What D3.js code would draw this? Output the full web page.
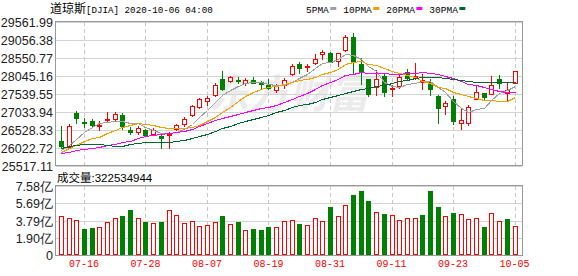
<!DOCTYPE html>
<html>
<head>
<meta charset="utf-8">
<script src="https://cdn.jsdelivr.net/npm/d3@7"></script>
<style>
  body { margin: 0; background: #fff; }
  svg text { font-family: "Liberation Sans", Arial, sans-serif; }
</style>
</head>
<body>
<div id="chart"></div>
<script>
// daily bars, 2020-07-13 .. 2020-10-05
const dates = ["07-13","07-14","07-15","07-16","07-17","07-20","07-21","07-22","07-23","07-24",
  "07-27","07-28","07-29","07-30","07-31","08-03","08-04","08-05","08-06","08-07",
  "08-10","08-11","08-12","08-13","08-14","08-17","08-18","08-19","08-20","08-21",
  "08-24","08-25","08-26","08-27","08-28","08-31","09-01","09-02","09-03","09-04",
  "09-08","09-09","09-10","09-11","09-14","09-15","09-16","09-17","09-18","09-21",
  "09-22","09-23","09-24","09-25","09-28","09-29","09-30","10-01","10-02","10-05"];
const tickDates = ["07-16","07-28","08-07","08-19","08-31","09-11","09-23","10-05"];

const open = [26224,26054,27016,26763,26790,26660,26828,26828,26946,26535,
  26459,26535,26413,26360,26394,26555,26687,26951,27186,27346,
  27517,27969,27894,27930,27860,27930,27880,27800,27658,27803,
  28110,28374,28295,28404,28665,28703,28453,28784,29137,28383,
  27950,27742,28035,27677,27770,28153,27976,27870,27870,27497,
  27205,27389,26733,26713,27387,27567,27534,27950,27563,27857];
const high = [26649,26697,27073,26866,26827,26771,27036,27044,26996,26612,
  26640,26555,26583,26394,26470,26697,26895,27243,27432,27477,
  27837,28185,28054,28006,27998,28006,27911,27950,27808,27978,
  28374,28450,28374,28657,28778,28733,28705,29203,29251,28560,
  27960,28213,28100,27789,28072,28245,28402,28091,27969,27500,
  27356,27477,27110,27243,27752,27580,28035,28063,27884,28176];
const low = [26018,26040,26725,26611,26612,26526,26753,26798,26563,26403,
  26403,26366,26375,26018,26020,26527,26648,26912,27149,27243,
  27497,27647,27865,27837,27789,27837,27714,27675,27582,27714,
  28071,28119,28195,28394,28524,28430,28337,28750,28139,27816,
  27477,27506,27488,27488,27695,27970,27960,27675,27506,26714,
  26988,26705,26544,26657,27387,27392,27534,27704,27374,27857];
const close = [26086,26640,26875,26735,26677,26681,26850,26990,26652,26475,
  26590,26380,26540,26310,26420,26668,26838,27206,27393,27440,
  27800,27686,28015,27900,27935,27860,27830,27700,27760,27930,
  28326,28261,28332,28524,28712,28443,28685,29146,28450,28195,
  27534,27950,27582,27715,28007,28001,28032,27935,27676,27148,
  27275,26771,26817,27176,27584,27460,27800,27856,27662,28176];

// volume in 亿, up = close above previous close
const volume = [4.25,4.03,3.81,2.86,2.97,3.04,3.59,4.03,4.28,4.94,
  4.03,3.63,3.48,3.63,4.91,4.36,3.48,3.70,3.15,3.26,
  3.59,4.28,3.37,3.63,2.71,2.86,2.75,3.04,3.04,3.70,
  3.81,3.40,3.26,4.03,3.70,5.27,4.25,5.46,6.59,7.03,
  5.93,4.69,4.50,4.36,3.81,4.10,4.10,4.39,7.03,5.27,
  4.25,4.61,4.47,3.92,4.03,3.08,4.58,3.70,3.95,3.2253];
const volUp = [1,1,1,0,0,1,1,1,0,0,
  1,0,1,0,1,1,1,1,1,1,
  1,0,1,0,1,0,0,0,1,1,
  1,0,1,1,1,0,1,1,0,0,
  0,1,0,1,1,1,1,0,0,0,
  1,0,1,1,1,0,1,1,0,1];
const lastVolume = "322534944";

const ma5 = [25965,26115,26276,26482,26601,26720,26760,26787,26770,26730,
  26711,26618,26525,26458,26449,26465,26555,26687,26902,27103,
  27328,27500,27655,27757,27857,27867,27886,27829,27797,27797,
  27890,27984,28112,28262,28407,28431,28511,28665,28625,28521,
  28335,28194,27880,27755,27727,27826,27844,27918,27916,27747,
  27605,27352,27134,27038,27125,27158,27362,27562,27664,27777];
const ma10 = [25908,26013,26119,26219,26303,26343,26438,26531,26626,26666,
  26715,26689,26656,26614,26590,26588,26587,26606,26680,26776,
  26897,27027,27171,27329,27480,27598,27693,27742,27777,27827,
  27879,27935,27970,28030,28102,28161,28247,28388,28443,28464,
  28383,28352,28273,28190,28124,28080,28019,27899,27836,27737,
  27716,27598,27526,27477,27436,27382,27357,27348,27351,27451];
const ma20 = [25880,25924,25953,25984,26013,26054,26094,26137,26197,26233,
  26312,26351,26387,26416,26446,26465,26512,26569,26653,26721,
  26806,26858,26914,26972,27035,27093,27140,27174,27228,27301,
  27388,27481,27571,27680,27791,27879,27970,28065,28110,28145,
  28131,28143,28121,28110,28113,28120,28133,28144,28139,28100,
  28049,27975,27899,27833,27780,27731,27688,27624,27593,27594];
const ma30 = [26035,26074,26111,26127,26140,26125,26101,26092,26081,26126,
  26158,26179,26187,26194,26205,26232,26258,26293,26358,26414,
  26507,26576,26649,26721,26791,26843,26906,26960,27028,27089,
  27164,27217,27266,27324,27390,27449,27509,27579,27633,27689,
  27719,27771,27805,27850,27902,27946,27986,28010,28019,28009,
  27992,27962,27923,27899,27887,27874,27874,27878,27877,27884];
const maNames = ["5PMA","10PMA","20PMA","30PMA"];

const priceTicks = [25517.11,26022.72,26528.33,27033.94,27539.55,28045.16,28550.77,29056.38,29561.99];
const volTicks = [0,1.895,3.79,5.685,7.58];
const volTickLabels = ["0","1.90亿","3.79亿","5.69亿","7.58亿"];

const width = 578, height = 276;
const left = 56, right = 522;
const RED = "#ff0000", GREEN = "#008000";
const maColors = ["#a0a0a0","#f0a000","#ff00ff","#006633"];

const svg = d3.select("#chart").append("svg")
  .attr("width", width).attr("height", height);

const x = d3.scaleBand().domain(d3.range(dates.length)).range([57, 518.4]);
const cx = i => Math.round(x(i) + x.bandwidth() / 2);
const y = d3.scaleLinear().domain([25517.11, 29561.99]).rangeRound([166, 22]);
const vy = d3.scaleLinear().domain([0, 7.58]).rangeRound([255, 186]);

const tickIdx = d3.range(dates.length).filter(i => tickDates.includes(dates[i]));

// watermark
svg.append("text")
  .attr("x", 289).attr("y", 108)
  .attr("text-anchor", "middle")
  .style("font-family", "'Noto Sans CJK SC'")
  .style("font-size", "40px").style("font-weight", "bold").style("font-style", "italic")
  .attr("fill", "#ebebeb")
  .text("东方财富");

// ---- price panel grid / axis
const yAxis = svg.append("g")
  .attr("transform", `translate(${left},0)`)
  .call(d3.axisLeft(y).tickValues(priceTicks).tickFormat(d3.format(".2f"))
    .tickSize(-(right - left)).tickPadding(3));
yAxis.select(".domain").remove();
yAxis.selectAll("line").attr("stroke", "#d4d4d4");
yAxis.selectAll("text").attr("fill", "#222").style("font-size", "12.5px").attr("dy", "0.36em");

svg.append("g").selectAll("line").data(tickIdx).join("line")
  .attr("x1", i => cx(i) + 0.5).attr("x2", i => cx(i) + 0.5)
  .attr("y1", 22).attr("y2", 165)
  .attr("stroke", "#c8c8c8").attr("stroke-dasharray", "4,3");

svg.append("rect")
  .attr("x", left - 0.5).attr("y", 21.5)
  .attr("width", right - left + 1).attr("height", 144)
  .attr("fill", "none").attr("stroke", "#999");

// ---- candles
const candles = svg.append("g").selectAll("g").data(d3.range(dates.length)).join("g");
candles.append("line")
  .attr("x1", i => cx(i) + 0.5).attr("x2", i => cx(i) + 0.5)
  .attr("y1", i => y(high[i])).attr("y2", i => y(low[i]) + 1)
  .attr("stroke", i => close[i] >= open[i] ? RED : GREEN);
candles.append("rect")
  .each(function (i) {
    const up = close[i] >= open[i];
    const top = y(Math.max(open[i], close[i]));
    const bot = Math.max(y(Math.min(open[i], close[i])), top + 1);
    const r = d3.select(this);
    if (up) {
      r.attr("x", cx(i) - 1.5).attr("y", top + 0.5)
        .attr("width", 4).attr("height", bot - top)
        .attr("fill", "#fff").attr("stroke", RED);
    } else {
      r.attr("x", cx(i) - 2).attr("y", top)
        .attr("width", 5).attr("height", bot - top + 1)
        .attr("fill", GREEN);
    }
  });

// ---- moving averages
const line = d3.line().x((d, i) => cx(i) + 0.5).y(d => y(d) + 0.5);
svg.append("g").selectAll("path").data([ma5, ma10, ma20, ma30]).join("path")
  .attr("d", line)
  .attr("fill", "none")
  .attr("stroke", (d, k) => maColors[k])
  .attr("stroke-width", 1)
  .style("shape-rendering", "crispEdges");

// ---- title + legend
const title = svg.append("text").attr("x", 50).attr("y", 13).attr("fill", "#000");
title.append("tspan").style("font-family", "'Noto Sans CJK SC'").style("font-size", "12px").text("道琼斯");
title.append("tspan").style("font-family", "'Liberation Mono'").style("font-size", "9.2px")
  .text("[DJIA] 2020-10-06 04:00");

let lx = 306;
maNames.forEach((name, k) => {
  const t = svg.append("text").attr("x", lx).attr("y", 12.5)
    .style("font-family", "'Liberation Mono'").style("font-size", "9.5px")
    .attr("fill", "#000").text(name);
  lx += t.node().getComputedTextLength() + 1.5;
  svg.append("rect").attr("x", lx).attr("y", 7).attr("width", 6).attr("height", 3)
    .attr("fill", maColors[k]);
  lx += 13;
});

// ---- volume panel
svg.append("text").attr("x", 57).attr("y", 182)
  .style("font-family", "'Liberation Sans','Noto Sans CJK SC'").style("font-size", "11.5px")
  .attr("fill", "#000").text("成交量:" + lastVolume);

const vAxis = svg.append("g")
  .attr("transform", `translate(${left},0)`)
  .call(d3.axisLeft(vy).tickValues(volTicks).tickFormat((d, i) => volTickLabels[i])
    .tickSize(-(right - left)).tickPadding(3));
vAxis.select(".domain").remove();
vAxis.selectAll("line").attr("stroke", "#d4d4d4");
vAxis.selectAll("text").attr("fill", "#222").style("font-size", "12.5px").attr("dy", "0.36em");

svg.append("g").selectAll("line").data(tickIdx).join("line")
  .attr("x1", i => cx(i) + 0.5).attr("x2", i => cx(i) + 0.5)
  .attr("y1", 186).attr("y2", 255)
  .attr("stroke", "#c8c8c8").attr("stroke-dasharray", "4,3");

svg.append("rect")
  .attr("x", left - 0.5).attr("y", 185.5)
  .attr("width", right - left + 1).attr("height", 70)
  .attr("fill", "none").attr("stroke", "#999");

svg.append("g").selectAll("rect").data(d3.range(dates.length)).join("rect")
  .each(function (i) {
    const r = d3.select(this);
    const top = vy(volume[i]);
    if (volUp[i]) {
      r.attr("x", cx(i) - 1.5).attr("y", top + 0.5)
        .attr("width", 4).attr("height", 254 - top)
        .attr("fill", "#fff").attr("stroke", RED);
    } else {
      r.attr("x", cx(i) - 2).attr("y", top)
        .attr("width", 5).attr("height", 255 - top)
        .attr("fill", GREEN);
    }
  });

// ---- date labels
const xAxis = svg.append("g")
  .attr("transform", "translate(0,256)")
  .call(d3.axisBottom(x).tickValues(tickIdx).tickFormat(i => dates[i]).tickSize(0).tickPadding(4));
xAxis.select(".domain").remove();
xAxis.selectAll("text")
  .attr("fill", RED)
  .style("font-family", "'Liberation Mono'").style("font-size", "10px");
</script>
</body>
</html>
